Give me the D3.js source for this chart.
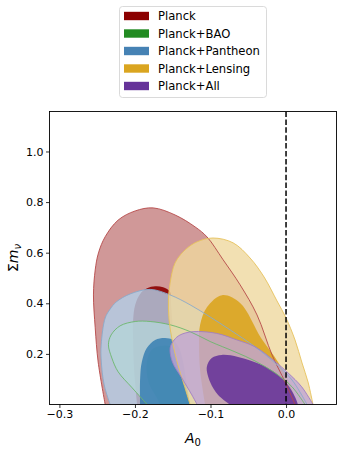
<!DOCTYPE html>
<html><head><meta charset="utf-8">
<script src="https://cdn.jsdelivr.net/npm/d3@7"></script>
<style>body{margin:0;background:#fff}svg{display:block}text{font-family:"DejaVu Sans",sans-serif}</style>
</head><body><svg id="c" width="344" height="450"></svg>
<script>
// ---- data (A0, sum m_nu) contour boundaries ----
const series = ["Planck", "Planck+BAO", "Planck+Pantheon", "Planck+Lensing", "Planck+All"];
const xTicks = [-0.3, -0.2, -0.1, 0.0];
const yTicks = [0.2, 0.4, 0.6, 0.8, 1.0];
const xDomain = [-0.3131, 0.0668];
const yDomain = [0, 1.158];

const planck95 = [[-0.2394,0],[-0.2487,0.168],[-0.2526,0.303],[-0.2549,0.433],[-0.2526,0.532],[-0.2483,0.599],[-0.2394,0.663],[-0.2222,0.729],[-0.1997,0.765],[-0.1759,0.777],[-0.1468,0.749],[-0.1204,0.702],[-0.1045,0.662],[-0.0833,0.572],[-0.0608,0.473],[-0.0384,0.354],[-0.0185,0.196],[-0.0013,0.089],[0.0119,0]];
const planck68 = [[-0.1971,0],[-0.2011,0.137],[-0.2024,0.255],[-0.2024,0.334],[-0.1997,0.393],[-0.1931,0.437],[-0.1839,0.459],[-0.1733,0.467],[-0.1627,0.463],[-0.1534,0.445],[-0.1521,0.393],[-0.1495,0.295],[-0.1442,0.168],[-0.1376,0]];
const bao95 = [[-0.1839,0],[-0.2037,0.066],[-0.2222,0.129],[-0.2306,0.184],[-0.2351,0.236],[-0.2315,0.275],[-0.2196,0.311],[-0.1997,0.328],[-0.1799,0.328],[-0.1534,0.315],[-0.1270,0.288],[-0.1005,0.249],[-0.0675,0.208],[-0.0410,0.172],[-0.0146,0.125],[0.0079,0.070],[0.0251,0]];
const bao68 = [[-0.1667,0],[-0.1710,0.026],[-0.1821,0.089],[-0.1843,0.168],[-0.1776,0.216],[-0.1667,0.231],[-0.1534,0.231],[-0.1429,0.216],[-0.1362,0.157],[-0.1323,0.077],[-0.1283,0]];
const pantheon95 = [[-0.2328,0],[-0.2407,0.077],[-0.2447,0.176],[-0.2447,0.236],[-0.2394,0.342],[-0.2328,0.377],[-0.2249,0.405],[-0.2063,0.437],[-0.1799,0.455],[-0.1534,0.433],[-0.1270,0.394],[-0.1005,0.346],[-0.0741,0.295],[-0.0410,0.228],[-0.0146,0.164],[0.0079,0.097],[0.0278,0]];
const pantheon68 = [[-0.1931,0],[-0.1931,0.105],[-0.1909,0.168],[-0.1843,0.223],[-0.1733,0.255],[-0.1601,0.263],[-0.1495,0.255],[-0.1415,0.223],[-0.1362,0.168],[-0.1323,0.097],[-0.1270,0]];
const lensing95 = [[-0.1270,0],[-0.1349,0.077],[-0.1442,0.168],[-0.1508,0.255],[-0.1548,0.334],[-0.1557,0.413],[-0.1534,0.481],[-0.1468,0.560],[-0.1336,0.611],[-0.1177,0.643],[-0.0966,0.658],[-0.0701,0.639],[-0.0476,0.579],[-0.0291,0.504],[-0.0119,0.409],[0.0,0.342],[0.0119,0.255],[0.0212,0.164],[0.0291,0.089],[0.0357,0]];
const lensing68 = [[-0.1071,0],[-0.1138,0.137],[-0.1151,0.235],[-0.1138,0.314],[-0.1045,0.385],[-0.0847,0.432],[-0.0608,0.401],[-0.0331,0.263],[-0.0106,0.168],[0.0053,0.077],[0.0146,0]];
const all95 = [[-0.1177,0],[-0.1247,0.038],[-0.1380,0.105],[-0.1504,0.168],[-0.1534,0.224],[-0.1481,0.255],[-0.1402,0.275],[-0.1230,0.288],[-0.0917,0.281],[-0.0648,0.255],[-0.0410,0.228],[-0.0146,0.170],[0.0026,0.125],[0.0207,0.070],[0.0357,0]];
const all68 = [[-0.0741,0],[-0.0899,0.038],[-0.1005,0.089],[-0.1049,0.148],[-0.0983,0.184],[-0.0851,0.196],[-0.0635,0.188],[-0.0317,0.156],[-0.0106,0.117],[0.0026,0.077],[0.0119,0.030],[0.0159,0]];

const outer = [planck95, bao95, pantheon95, lensing95, all95];
const inner = [planck68, bao68, pantheon68, lensing68, all68];

// ---- styles ----
const baseColors = ["#8b0000", "#228b22", "#4682b4", "#daa520", "#663399"];
const innerColors = ["#8b0000", "#228b22", "#2574ad", "#daa520", "#663399"];
const outerFill = ["#c47e7e", "#bee398", "#b2cfe8", "#efd89f", "#bfa5d4"];
const outerOpacity = [0.8, 0.8, 0.8, 0.8, 0.8];
const innerOpacity = [0.9, 0.6, 0.75, 0.9, 0.88];
const edgeColor = ["#b54848", "#6cb86c", "#8aaacb", "#e6c25c", "#a07fc4"];

const svg = d3.select("#c");
const L = 49.5, R = 336.5, T = 111.5, B = 404.5;
const x = d3.scaleLinear().domain(xDomain).range([L, R]);
const y = d3.scaleLinear().domain(yDomain).range([B, T]);

svg.append("clipPath").attr("id", "clip").append("rect")
  .attr("x", L).attr("y", T).attr("width", R - L).attr("height", B - T);
const g = svg.append("g").attr("clip-path", "url(#clip)");

const line = d3.line().x(d => x(d[0])).y(d => y(d[1])).curve(d3.curveCatmullRom.alpha(0.5));

for (let i = 0; i < series.length; i++) {
  g.append("path").attr("d", line(outer[i]) + "Z")
    .attr("fill", outerFill[i]).attr("fill-opacity", outerOpacity[i]);
  g.append("path").attr("d", line(inner[i]) + "Z")
    .attr("fill", innerColors[i]).attr("fill-opacity", innerOpacity[i]);
}
for (let i = 0; i < series.length; i++) {
  g.append("path").attr("d", line(outer[i]))
    .attr("fill", "none").attr("stroke", edgeColor[i]).attr("stroke-width", 0.9);
}

// dashed line at A0 = 0
g.append("line").attr("x1", x(0)).attr("x2", x(0)).attr("y1", T).attr("y2", B)
  .attr("stroke", "#000").attr("stroke-width", 1.5).attr("stroke-dasharray", "5.5,2.4");

// axes
const fmt = d => d3.format(".1f")(d).replace("-", "\u2212");
const xAxis = d3.axisBottom(x).tickValues(xTicks).tickFormat(fmt).tickSizeOuter(0).tickSize(3.5).tickPadding(2.5);
const yAxis = d3.axisLeft(y).tickValues(yTicks).tickFormat(fmt).tickSizeOuter(0).tickSize(3.5).tickPadding(2.5);
const gx = svg.append("g").attr("transform", `translate(0,${B})`).call(xAxis);
const gy = svg.append("g").attr("transform", `translate(${L},0)`).call(yAxis);
[gx, gy].forEach(a => {
  a.select(".domain").remove();
  a.selectAll("line").attr("stroke", "#000").attr("stroke-width", 0.8);
  a.selectAll("text").attr("font-size", 11).attr("fill", "#000").attr("font-family", "DejaVu Sans");
});
svg.append("rect").attr("x", L).attr("y", T).attr("width", R - L).attr("height", B - T)
  .attr("fill", "none").attr("stroke", "#000").attr("stroke-width", 0.9);

// axis labels
const xl = svg.append("text").attr("x", (L + R) / 2).attr("y", 443).attr("text-anchor", "middle")
  .attr("font-size", 14);
xl.append("tspan").attr("font-style", "italic").text("A");
xl.append("tspan").attr("font-size", 10).attr("dy", 3).text("0");

const yl = svg.append("text").attr("transform", `translate(18,${(T + B) / 2}) rotate(-90)`)
  .attr("text-anchor", "middle").attr("font-size", 14);
yl.append("tspan").text("\u03A3");
yl.append("tspan").attr("font-style", "italic").text("m");
yl.append("tspan").attr("font-style", "italic").attr("font-size", 10).attr("dy", 3).text("\u03BD");

// legend
const lg = svg.append("g");
lg.append("rect").attr("x", 119.5).attr("y", 6.5).attr("width", 147).attr("height", 91)
  .attr("rx", 3).attr("fill", "#fff").attr("fill-opacity", 0.8).attr("stroke", "#d0d0d0").attr("stroke-width", 0.8);
series.forEach((s, i) => {
  const cy = 16 + i * 17.5;
  lg.append("rect").attr("x", 124).attr("y", cy - 4.2).attr("width", 25).attr("height", 8.4)
    .attr("fill", baseColors[i]);
  lg.append("text").attr("x", 158).attr("y", cy + 4.2).attr("font-size", 11.6).attr("fill", "#000").text(s);
});
</script></body></html>
